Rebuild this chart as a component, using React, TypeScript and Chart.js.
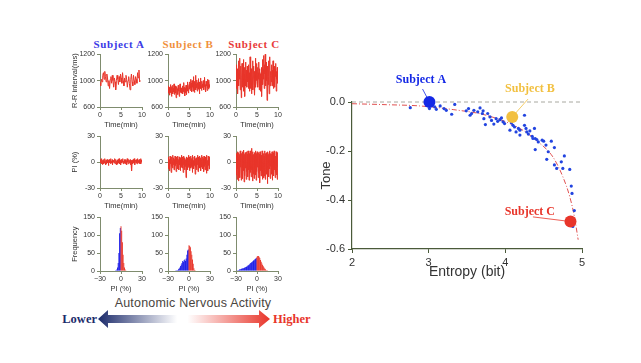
import React, { useEffect, useRef } from 'react';
import { Chart, registerables } from 'chart.js';
Chart.register(...registerables);

// ---------------- data ----------------
const SUBJECTS = ['Subject A', 'Subject B', 'Subject C'];
const TIME_TICKS = [0, 5, 10];
const RR_TICK_VALUES = [800, 1000, 1200];
const RR_TICK_LABELS = ['600', '1000', '1200'];
const PI_TICKS = [-30, 0, 30];
const FREQ_TICKS = [0, 50, 100, 150];
const HIST_X_TICKS = [-30, 0, 30];
const RR_DURATION = [9.6, 10, 10];
const PI_DURATION = [10, 10, 10];

const RR_A = [985, 960, 1010, 990, 1040, 1060, 1010, 1070, 1030, 990, 1050, 1020, 960, 1000, 940, 1010, 1030, 980, 1040, 1000,
  950, 1020, 990, 930, 1000, 1040, 1010, 970, 1030, 990, 1050, 1020, 980, 1060, 1000, 960, 1020, 990, 1040, 1010,
  950, 1000, 1030, 980, 930, 1010, 1050, 990, 960, 1040, 1000, 970, 1030, 1010, 980, 1060, 1020, 1080, 990, 1000];
const RR_B = [
  940, 905, 960, 915, 950, 890, 935, 970, 910, 945,
  880, 955, 925, 965, 900, 940, 915, 975, 895, 930,
  960, 905, 945, 870, 925, 955, 910, 940, 895, 965,
  920, 950, 880, 935, 975, 910, 955, 925, 945, 905,
  930, 960, 900, 945, 915, 985, 920, 950, 885, 940,
  910, 965, 930, 895, 955, 920, 990, 935, 905, 950,
  970, 935, 990, 925, 1010, 945, 980, 915, 1000, 950,
  975, 920, 1030, 940, 985, 910, 995, 960, 1040, 930,
  975, 945, 1005, 920, 985, 955, 1015, 935, 970, 900,
  990, 950, 1020, 940, 965, 925, 995, 945, 975, 950,
  1000, 930, 985, 955, 1025, 940, 970, 915, 995, 960,
  980, 925, 1010, 945, 990, 935, 1005, 950, 970, 945];
const RR_C = [
  1050, 940, 1120, 980, 1090, 900, 1060, 1150, 960, 1080,
  1010, 1170, 930, 1040, 1110, 870, 1020, 1130, 950, 1070,
  990, 1160, 920, 1050, 1100, 880, 1010, 1140, 960, 1080,
  1030, 950, 1110, 990, 1070, 940, 1120, 1000, 1060, 920,
  1180, 940, 1030, 1090, 900, 1060, 1000, 1150, 930, 1020,
  1110, 960, 1070, 890, 1040, 1170, 950, 1080, 1000, 1130,
  980, 1100, 950, 1060, 1010, 1140, 930, 1090, 970, 1050,
  920, 1060, 1100, 880, 1020, 1160, 970, 1090, 1010, 1190,
  940, 1120, 1050, 1220, 960, 1080, 1000, 1140, 850, 1060,
  1110, 970, 1150, 1030, 900, 1090, 1180, 960, 1070, 1040,
  990, 1120, 960, 1080, 1020, 1150, 940, 1060, 1000, 1110,
  950, 1090, 1030, 1130, 920, 1070, 1010, 1100, 980, 1040];

const PI_A = [
  2, -1, 3, 0, -2, 4, 1, -3, 2, 0,
  3, -2, 1, -1, 4, 0, -3, 2, 1, -2,
  3, 0, -1, 2, -4, 1, 3, -1, 0, 2,
  -2, 4, 1, -1, 0, 3, -3, 2, 0, 1,
  -1, 2, 4, -2, 0, 3, -1, 1, -3, 2,
  -2, 3, 1, -1, 4, 0, -2, 2, 1, -3,
  3, 0, -1, 2, 0, 4, -2, 1, -1, 3,
  1, -2, 3, 0, -1, 2, -3, 4, 0, 1,
  -2, 3, 1, -1, 2, 0, -3, 3, -1, 2,
  -10, 2, 0, -2, 3, 1, -1, 4, 0, -3,
  2, 1, -1, 3, 0, -2, 4, 1, -1, 2,
  0, 3, -2, 1, -1, 4, -2, 2, 0, 3];
const PI_B = [
  5, -8, 6, -4, 3, -10, 7, -2, 4, -12,
  6, -5, 2, -7, 8, -3, 5, -9, 3, -6,
  7, -4, 1, -11, 6, -2, 4, -8, 7, -5,
  3, -9, 6, -3, 5, -10, 2, -6, 8, -4,
  6, -7, 4, -12, 7, -3, 5, -9, 2, -5,
  3, -18, 6, -3, 5, -9, 2, -6, 8, -4,
  6, -10, 4, -2, 7, -7, 3, -5, 5, -12,
  8, -3, 2, -8, 6, -4, 7, -14, 4, -6,
  5, -9, 3, -3, 8, -11, 6, -5, 4, -7,
  7, -2, 5, -10, 3, -6, 8, -4, 6, -8,
  4, -11, 7, -5, 3, -9, 6, -3, 5, -13,
  8, -6, 2, -10, 7, -4, 5, -8, 6, -7];
const PI_C = [
  10, -15, 8, -20, 12, -8, 6, -22, 11, -12,
  9, -18, 13, -6, 7, -21, 10, -14, 12, -19,
  8, -10, 14, -23, 9, -16, 11, -7, 6, -20,
  12, -11, 9, -17, 13, -9, 7, -21, 10, -13,
  13, -12, 10, -17, 16, -9, 8, -22, 12, -14,
  9, -19, 11, -8, 7, -15, 13, -21, 10, -11,
  12, -6, 8, -18, 11, -13, 9, -24, 12, -10,
  11, -16, 8, -12, 13, -20, 9, -7, 10, -18,
  7, -16, 13, -20, 10, -9, 11, -14, 8, -25,
  12, -12, 9, -17, 11, -8, 13, -19, 10, -5,
  9, -14, 12, -21, 8, -10, 11, -16, 13, -9,
  10, -18, 7, -12, 12, -15, 9, -20, 11, -6];

// histogram bins: -30 .. 30 (PI %)
const HIST_BINS = Array.from({ length: 61 }, (_, i) => i - 30);
const HIST_A = [
  0, 0, 0, 0, 0, 0, 0, 0, 0, 0,
  0, 0, 0, 0, 0, 0, 0, 0, 0, 0,
  0, 0, 1, 2, 4, 10, 22, 50, 105, 120,
  125, 112, 80, 45, 22, 10, 4, 1, 0, 0,
  0, 0, 0, 0, 0, 0, 0, 0, 0, 0,
  0, 0, 0, 0, 0, 0, 0, 0, 0, 0,
  0];
const HIST_B = [
  0, 0, 0, 0, 0, 0, 0, 0, 0, 0,
  0, 1, 1, 2, 3, 5, 7, 10, 14, 18,
  22, 28, 25, 30, 32, 28, 35, 45, 57, 60,
  72, 70, 66, 55, 45, 32, 20, 8, 3, 1,
  0, 0, 0, 0, 0, 0, 0, 0, 0, 0,
  0, 0, 0, 0, 0, 0, 0, 0, 0, 0,
  0];
const HIST_C = [
  0, 0, 1, 2, 3, 4, 5, 5, 6, 7,
  8, 8, 9, 10, 11, 12, 13, 15, 16, 18,
  20, 22, 24, 25, 27, 29, 30, 33, 34, 36,
  40, 42, 42, 40, 36, 31, 26, 21, 17, 13,
  10, 7, 5, 3, 2, 1, 0, 0, 0, 0,
  0, 0, 0, 0, 0, 0, 0, 0, 0, 0,
  0];

// right panel
const ENTROPY = [2.76, 3.01, 3.08, 3.1, 3.15, 3.2, 3.23, 3.3, 3.34, 3.49,
  3.52, 3.54, 3.56, 3.59, 3.64, 3.67, 3.7, 3.71, 3.72, 3.74,
  3.77, 3.8, 3.82, 3.85, 3.88, 3.9, 3.93, 3.95, 3.97, 3.99,
  4.06, 4.08, 4.1, 4.12, 4.14, 4.17, 4.19, 4.19, 4.25, 4.25,
  4.27, 4.28, 4.3, 4.32, 4.35, 4.36, 4.38, 4.39, 4.41, 4.43,
  4.39, 4.48, 4.5, 4.53, 4.54, 4.56, 4.6, 4.64, 4.64, 4.67,
  4.73, 4.75, 4.77, 4.84, 4.86, 4.87, 4.9, 4.88];
const TONE = [-0.023, -0.027, -0.02, -0.03, -0.016, -0.027, -0.034, -0.05, -0.01, -0.036,
  -0.027, -0.054, -0.047, -0.034, -0.04, -0.024, -0.047, -0.036, -0.068, -0.092,
  -0.047, -0.061, -0.075, -0.09, -0.068, -0.079, -0.072, -0.065, -0.081, -0.088,
  -0.115, -0.085, -0.095, -0.102, -0.122, -0.108, -0.115, -0.135, -0.054, -0.095,
  -0.108, -0.122, -0.131, -0.118, -0.14, -0.149, -0.108, -0.149, -0.153, -0.163,
  -0.194, -0.156, -0.16, -0.176, -0.234, -0.203, -0.16, -0.186, -0.257, -0.271,
  -0.244, -0.271, -0.22, -0.275, -0.343, -0.373, -0.443, -0.508];
const FIT_ENTROPY = [2.0, 2.45, 2.88, 3.32, 3.75, 4.19, 4.4, 4.62, 4.75, 4.84, 4.9, 4.95];
const FIT_TONE = [-0.007, -0.011, -0.016, -0.031, -0.054, -0.108, -0.156, -0.224, -0.305, -0.386, -0.467, -0.562];
const ZERO_X = [2, 5];
const ZERO_Y = [0, 0];
const SUBJECT_ENTROPY = [3.01, 4.09, 4.85];
const SUBJECT_TONE = [0.0, -0.061, -0.488];
const MAIN_X_TICKS = [2, 3, 4, 5];
const MAIN_Y_TICKS = [-0.6, -0.4, -0.2, 0];

// ---------------- styles ----------------
const SANS = "'Liberation Sans', Arial, sans-serif";
const SERIF = "'Liberation Serif', 'Times New Roman', serif";
const RED = '#e8352a';
const BLUE = '#1a1ae6';
const MINI_AXIS = '#7f8c6e';
const MAIN_AXIS = '#4a5a3a';
const TITLE_COLORS = ['#3b3be6', '#f0903c', '#e83a3a'];
const MAIN_SUBJ_COLORS = ['#1428e6', '#f2c040', '#e8352a'];

Chart.defaults.font.family = SANS;
Chart.defaults.color = '#333';

const COL_X = [100, 168, 236];
const PLOT_W = 42;
const ROWS = [
  { top: 54, h: 53 },
  { top: 136, h: 52 },
  { top: 217, h: 54 },
];
const PAD_TOP = 6;
const PAD_RIGHT = 8;
const XBOX_H = 22;

function miniAxes(col: number, yTitle: string, xTitle: string) {
  const yw = col === 0 ? 34 : 24;
  const tickFont = { family: SANS, size: 7 };
  const titleFont = { family: SANS, size: 7.5 };
  return {
    x: {
      type: 'linear' as const,
      offset: false,
      border: { color: MINI_AXIS, width: 1 },
      grid: { drawOnChartArea: false, offset: false, tickLength: 3, color: MINI_AXIS },
      ticks: { font: tickFont, color: '#333', padding: 1, maxRotation: 0 },
      title: { display: true, text: xTitle, font: titleFont, color: '#333', padding: { top: 0, bottom: 0 } },
      afterFit: (s: any) => { s.height = XBOX_H; },
    },
    y: {
      type: 'linear' as const,
      border: { color: MINI_AXIS, width: 1 },
      grid: { drawOnChartArea: false, tickLength: 3, color: MINI_AXIS },
      ticks: { font: tickFont, color: '#333', padding: 2 },
      title: { display: col === 0, text: yTitle, font: titleFont, color: '#333', padding: { top: 4.5, bottom: 0 } },
      afterFit: (s: any) => { s.width = yw; },
    },
    yw,
  };
}

function baseOptions(scales: any) {
  return {
    responsive: false,
    animation: false as const,
    events: [],
    layout: { padding: { top: PAD_TOP, right: PAD_RIGHT, left: 0, bottom: 0 } },
    plugins: { legend: { display: false }, tooltip: { enabled: false } },
    scales,
  };
}

function lineConfig(values: number[], duration: number, kind: 'rr' | 'pi', col: number) {
  const ax = miniAxes(col, kind === 'rr' ? 'R-R interval(ms)' : 'PI (%)', 'Time(min)');
  const pts = values.map((v, i) => ({ x: (i * duration) / (values.length - 1), y: v }));
  const x = {
    ...ax.x, min: 0, max: 10,
    afterBuildTicks: (s: any) => { s.ticks = TIME_TICKS.map((v) => ({ value: v })); },
  };
  const y: any = kind === 'rr'
    ? {
      ...ax.y, min: 800, max: 1200,
      afterBuildTicks: (s: any) => { s.ticks = RR_TICK_VALUES.map((v) => ({ value: v })); },
      ticks: { ...ax.y.ticks, callback: (v: number) => RR_TICK_LABELS[RR_TICK_VALUES.indexOf(v)] ?? '' },
    }
    : {
      ...ax.y, min: -30, max: 30,
      afterBuildTicks: (s: any) => { s.ticks = PI_TICKS.map((v) => ({ value: v })); },
    };
  return {
    type: 'line' as const,
    data: {
      datasets: [{
        data: pts, borderColor: RED, borderWidth: 1, pointRadius: 0, tension: 0, fill: false,
      }],
    },
    options: baseOptions({ x, y }),
  };
}

function histConfig(counts: number[], col: number) {
  const ax = miniAxes(col, 'Frequency', 'PI (%)');
  const x = {
    ...ax.x, min: -30, max: 30,
    afterBuildTicks: (s: any) => { s.ticks = HIST_X_TICKS.map((v) => ({ value: v })); },
    ticks: { ...ax.x.ticks, callback: (v: number) => (v < 0 ? '\u2212' + Math.abs(v) : String(v)) },
  };
  const y = {
    ...ax.y, min: 0, max: 150,
    afterBuildTicks: (s: any) => { s.ticks = FREQ_TICKS.map((v) => ({ value: v })); },
  };
  const colors = HIST_BINS.map((b) => (b < 0 ? BLUE : RED));
  return {
    type: 'bar' as const,
    data: {
      datasets: [{
        data: HIST_BINS.map((b, i) => ({ x: b, y: counts[i] })),
        backgroundColor: colors,
        borderWidth: 0,
        barPercentage: 1.35,
        categoryPercentage: 1,
      }],
    },
    options: baseOptions({ x, y }),
  };
}

const subjectLabelsPlugin = {
  id: 'subjectLabels',
  beforeDatasetsDraw(chart: any, _a: any, opts: any) {
    const { ctx, scales: { x, y } } = chart;
    ctx.save();
    SUBJECT_ENTROPY.forEach((e, i) => {
      const [sx, sy] = opts.lineFrom[i];
      ctx.strokeStyle = MAIN_SUBJ_COLORS[i];
      ctx.lineWidth = 0.8;
      ctx.beginPath();
      ctx.moveTo(x.getPixelForValue(sx), y.getPixelForValue(sy));
      ctx.lineTo(x.getPixelForValue(e), y.getPixelForValue(SUBJECT_TONE[i]));
      ctx.stroke();
    });
    ctx.restore();
  },
  afterDatasetsDraw(chart: any, _a: any, opts: any) {
    const { ctx, scales: { x, y } } = chart;
    ctx.save();
    ctx.font = `bold 12px ${SERIF}`;
    ctx.textAlign = 'center';
    ctx.textBaseline = 'middle';
    SUBJECTS.forEach((name, i) => {
      const [lx, ly] = opts.labelAt[i];
      ctx.fillStyle = MAIN_SUBJ_COLORS[i];
      ctx.fillText(name, x.getPixelForValue(lx), y.getPixelForValue(ly));
    });
    ctx.restore();
  },
};

function mainConfig() {
  return {
    type: 'scatter' as const,
    data: {
      datasets: [
        {
          data: SUBJECT_ENTROPY.map((e, i) => ({ x: e, y: SUBJECT_TONE[i] })),
          backgroundColor: MAIN_SUBJ_COLORS, borderWidth: 0, pointRadius: 6, order: 0, clip: false,
        },
        {
          data: ENTROPY.map((e, i) => ({ x: e, y: TONE[i] })),
          backgroundColor: '#2244e0', borderWidth: 0, pointRadius: 1.6, order: 1, clip: false,
        },
        {
          data: FIT_ENTROPY.map((e, i) => ({ x: e, y: FIT_TONE[i] })),
          showLine: true, borderColor: '#e05050', borderWidth: 1, borderDash: [5, 2, 1, 2],
          pointRadius: 0, cubicInterpolationMode: 'monotone', order: 2, clip: false,
        },
        {
          data: ZERO_X.map((e, i) => ({ x: e, y: ZERO_Y[i] })),
          showLine: true, borderColor: '#a8a8a0', borderWidth: 1, borderDash: [4, 3],
          pointRadius: 0, order: 3, clip: false,
        },
      ],
    },
    options: {
      responsive: false,
      animation: false as const,
      events: [],
      layout: { padding: { top: 42, right: 18, left: 0, bottom: 0 } },
      plugins: {
        legend: { display: false },
        tooltip: { enabled: false },
        subjectLabels: {
          labelAt: [[2.9, 0.09], [4.32, 0.053], [4.32, -0.449]],
          lineFrom: [[2.92, 0.053], [4.296, 0.012], [4.36, -0.469]],
        },
      },
      scales: {
        x: {
          type: 'linear' as const, min: 2, max: 5,
          afterBuildTicks: (s: any) => { s.ticks = MAIN_X_TICKS.map((v) => ({ value: v })); },
          border: { color: MAIN_AXIS, width: 1.2 },
          grid: { drawOnChartArea: false, tickLength: 4, color: MAIN_AXIS },
          ticks: { font: { family: SANS, size: 11 }, color: '#333', padding: 3, maxRotation: 0 },
          title: { display: true, text: 'Entropy (bit)', font: { family: SANS, size: 14 }, color: '#333', padding: { top: 0, bottom: 9 } },
          afterFit: (s: any) => { s.height = 41; },
        },
        y: {
          type: 'linear' as const, min: -0.6, max: 0,
          afterBuildTicks: (s: any) => { s.ticks = MAIN_Y_TICKS.map((v) => ({ value: v })); },
          border: { color: MAIN_AXIS, width: 1.2 },
          grid: { drawOnChartArea: false, tickLength: 4, color: MAIN_AXIS },
          ticks: { font: { family: SANS, size: 11 }, color: '#333', padding: 3, callback: (v: number) => Number(v).toFixed(1) },
          title: { display: true, text: 'Tone', font: { family: SANS, size: 13 }, color: '#333', padding: { top: 19, bottom: 0 } },
          afterFit: (s: any) => { s.width = 52; },
        },
      },
    },
    plugins: [subjectLabelsPlugin],
  };
}

function ChartBox({ left, top, width, height, make }: { left: number; top: number; width: number; height: number; make: () => any }) {
  const ref = useRef<HTMLCanvasElement | null>(null);
  useEffect(() => {
    if (!ref.current) return;
    const chart = new Chart(ref.current, make());
    return () => chart.destroy();
  }, []);
  return (
    <canvas
      ref={ref}
      width={width}
      height={height}
      style={{ position: 'absolute', left, top, width, height, display: 'block' }}
    />
  );
}

function Text({ cx, cy, text, style }: { cx: number; cy: number; text: string; style: React.CSSProperties }) {
  return (
    <div style={{
      position: 'absolute', left: cx - 100, top: cy - 10, width: 200, height: 20, lineHeight: '20px',
      textAlign: 'center', whiteSpace: 'nowrap', ...style,
    }}>{text}</div>
  );
}

export default function App() {
  const rrSeries = [RR_A, RR_B, RR_C];
  const piSeries = [PI_A, PI_B, PI_C];
  const hists = [HIST_A, HIST_B, HIST_C];
  const boxes: any[] = [];
  COL_X.forEach((cx, col) => {
    const yw = col === 0 ? 34 : 24;
    const left = cx - yw;
    const width = yw + PLOT_W + PAD_RIGHT;
    ROWS.forEach((r, row) => {
      const top = r.top - PAD_TOP;
      const height = PAD_TOP + r.h + XBOX_H;
      const make = row === 0
        ? () => lineConfig(rrSeries[col], RR_DURATION[col], 'rr', col)
        : row === 1
          ? () => lineConfig(piSeries[col], PI_DURATION[col], 'pi', col)
          : () => histConfig(hists[col], col);
      boxes.push(<ChartBox key={`${row}-${col}`} left={left} top={top} width={width} height={height} make={make} />);
    });
  });
  const titleCx = [119, 188, 254];
  return (
    <div style={{ position: 'absolute', left: 0, top: 0, width: 641, height: 363, background: '#fff', overflow: 'hidden' }}>
      {SUBJECTS.map((s, i) => (
        <Text key={s} cx={titleCx[i]} cy={44} text={s}
          style={{ fontFamily: SERIF, fontWeight: 'bold', fontSize: 11, letterSpacing: '0.6px', color: TITLE_COLORS[i] }} />
      ))}
      {boxes}
      <Text cx={193} cy={303} text="Autonomic Nervous Activity"
        style={{ fontFamily: SANS, fontSize: 12.5, color: '#4a4540', letterSpacing: '0.2px' }} />
      <svg style={{ position: 'absolute', left: 95, top: 308 }} width={180} height={22}>
        <defs>
          <linearGradient id="ana" x1="0" y1="0" x2="1" y2="0">
            <stop offset="0" stopColor="#1c2b6b" />
            <stop offset="0.46" stopColor="#ffffff" />
            <stop offset="0.52" stopColor="#ffffff" />
            <stop offset="1" stopColor="#e8352a" />
          </linearGradient>
        </defs>
        <polygon points="3,11 13,2 13,7 164,7 164,2 175,11 164,20 164,15 13,15 13,20" fill="url(#ana)" />
      </svg>
      <div style={{ position: 'absolute', left: 20, width: 77, top: 309, height: 20, lineHeight: '20px', textAlign: 'right', fontFamily: SERIF, fontWeight: 'bold', fontSize: 12.5, color: '#1c2b6b' }}>Lower</div>
      <div style={{ position: 'absolute', left: 273, width: 80, top: 309, height: 20, lineHeight: '20px', textAlign: 'left', fontFamily: SERIF, fontWeight: 'bold', fontSize: 12.5, color: RED }}>Higher</div>
      <ChartBox left={300} top={60} width={300} height={230} make={mainConfig} />
    </div>
  );
}
